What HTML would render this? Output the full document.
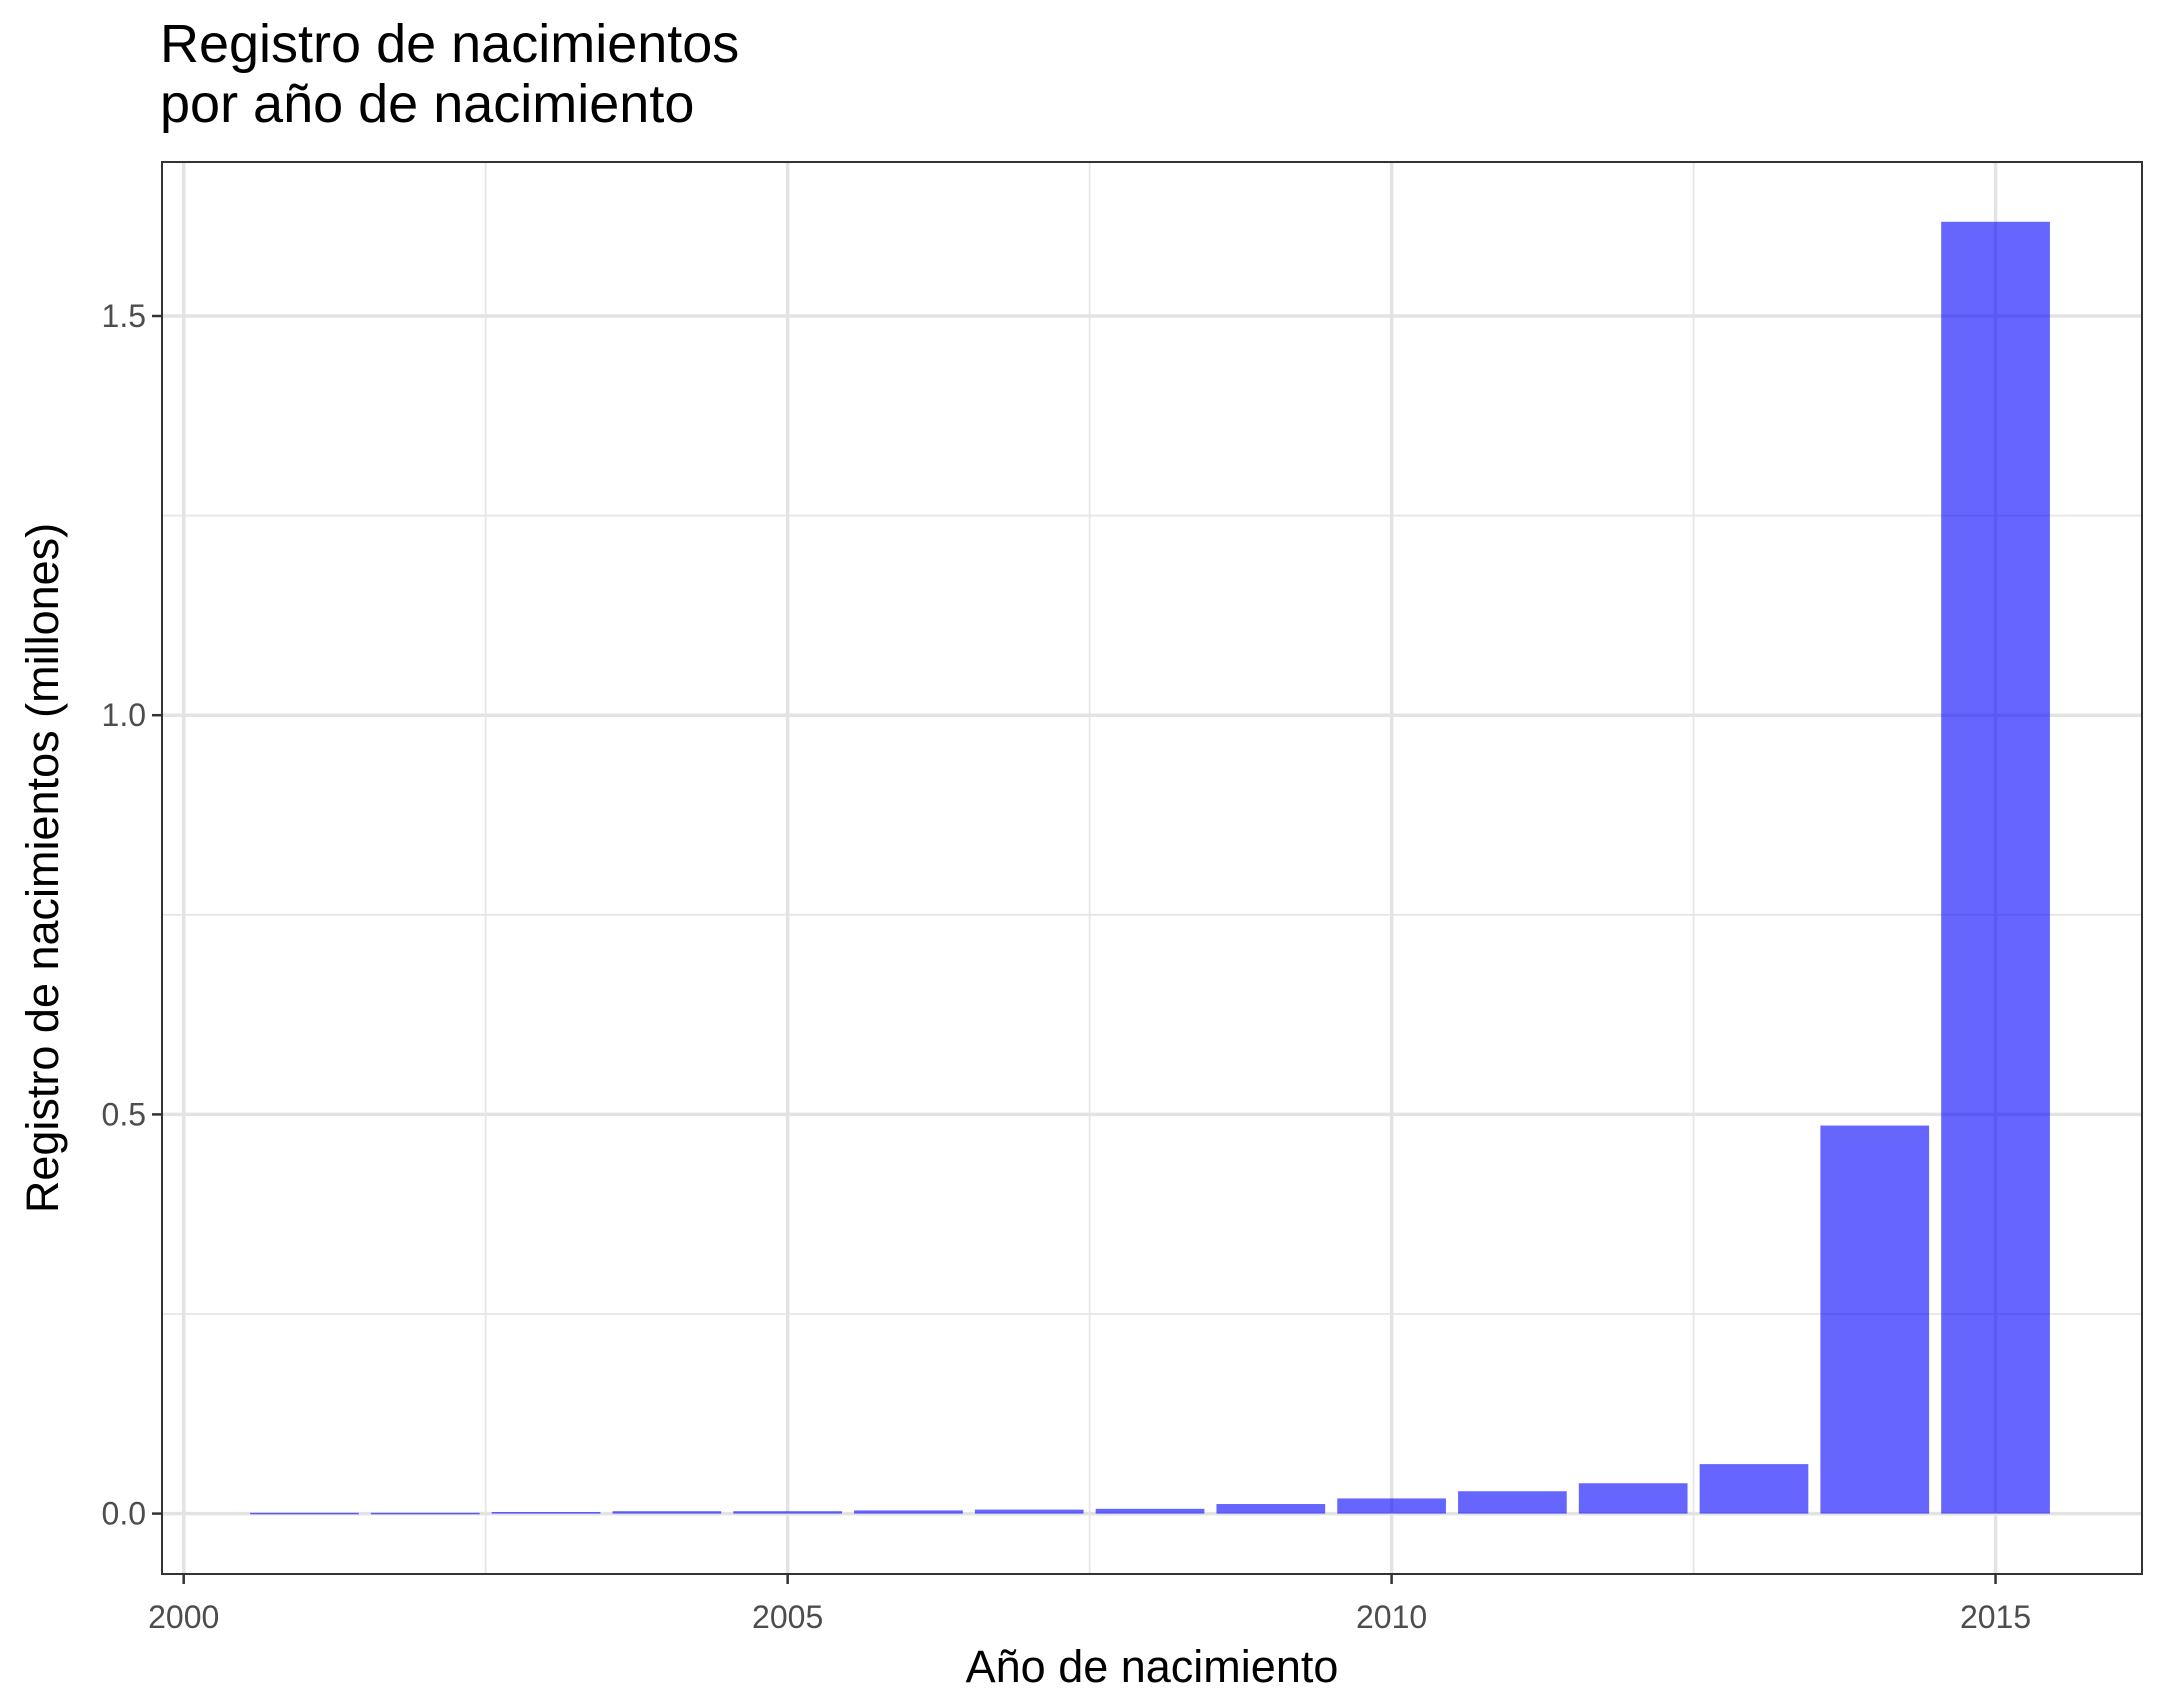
<!DOCTYPE html>
<html><head><meta charset="utf-8"><style>
html,body{margin:0;padding:0;background:#fff;}
svg{display:block;font-family:"Liberation Sans",Arial,sans-serif;}
</style></head><body>
<svg id="chart" width="2166" height="1704" viewBox="0 0 2166 1704">
<text x="160" y="62" font-size="54" fill="#000">Registro de nacimientos</text>
<text x="160" y="122" font-size="54" fill="#000">por año de nacimiento</text>
<g id="grid"></g>
<g id="bars"></g>
<rect x="162" y="162" width="1980" height="1412" fill="none" stroke="#333" stroke-width="2"/>
<g id="axes"></g>
<text x="1152" y="1682" font-size="45" text-anchor="middle" fill="#000">Año de nacimiento</text>
<text transform="translate(58,868) rotate(-90)" font-size="45" text-anchor="middle" fill="#000">Registro de nacimientos (millones)</text>
</svg>
<script>
const years = [2001,2002,2003,2004,2005,2006,2007,2008,2009,2010,2011,2012,2013,2014,2015];
const births = [0.001,0.001,0.002,0.003,0.003,0.004,0.005,0.006,0.012,0.019,0.028,0.038,0.062,0.486,1.618];
const xTicks = [2000,2005,2010,2015];
const xMinor = [2002.5,2007.5,2012.5];
const yTicks = [0,0.5,1.0,1.5];
const yTickLabels = ["0.0","0.5","1.0","1.5"];
const yMinor = [0.25,0.75,1.25];

const L=162,R=2142,T=162,B=1574;
const x = v => 183.7 + (v-2000)*120.79;
const y = v => 1513.6 - v*798.4;
const NS="http://www.w3.org/2000/svg";
function mk(tag,attrs,parent){const e=document.createElementNS(NS,tag);for(const k in attrs)e.setAttribute(k,attrs[k]);parent.appendChild(e);return e;}
const grid=document.getElementById('grid'),bars=document.getElementById('bars'),axes=document.getElementById('axes');
xMinor.forEach(v=>{const l=mk('line',{x1:x(v),x2:x(v),y1:T,y2:B,stroke:'#e6e6e6','stroke-width':1.8},grid);

});
yMinor.forEach(v=>{const l=mk('line',{x1:L,x2:R,y1:y(v),y2:y(v),stroke:'#e6e6e6','stroke-width':1.8},grid);

});
xTicks.forEach(v=>{const l=mk('line',{x1:x(v),x2:x(v),y1:T,y2:B,stroke:'#e3e3e3','stroke-width':3.5},grid);

});
yTicks.forEach(v=>{const l=mk('line',{x1:L,x2:R,y1:y(v),y2:y(v),stroke:'#e3e3e3','stroke-width':3.5},grid);

});
years.forEach((yr,i)=>{const v=births[i];const w=0.9*120.79;
const r=mk('rect',{x:x(yr)-w/2,y:y(v),width:w,height:Math.max(y(0)-y(v),1.5),fill:'#0000ff','fill-opacity':0.6},bars);

});
xTicks.forEach(v=>{const t=mk('line',{x1:x(v),x2:x(v),y1:B,y2:B+10,stroke:'#333','stroke-width':2.5},axes);


const s=mk('text',{x:x(v),y:1628,'font-size':32,'text-anchor':'middle',fill:'#4d4d4d'},axes);s.textContent=v;

});
yTicks.forEach((v,i)=>{const t=mk('line',{x1:L-10,x2:L,y1:y(v),y2:y(v),stroke:'#333','stroke-width':2.5},axes);


const s=mk('text',{x:L-16,y:y(v)+11,'font-size':32,'text-anchor':'end',fill:'#4d4d4d'},axes);s.textContent=yTickLabels[i];

});
</script>
</body></html>
